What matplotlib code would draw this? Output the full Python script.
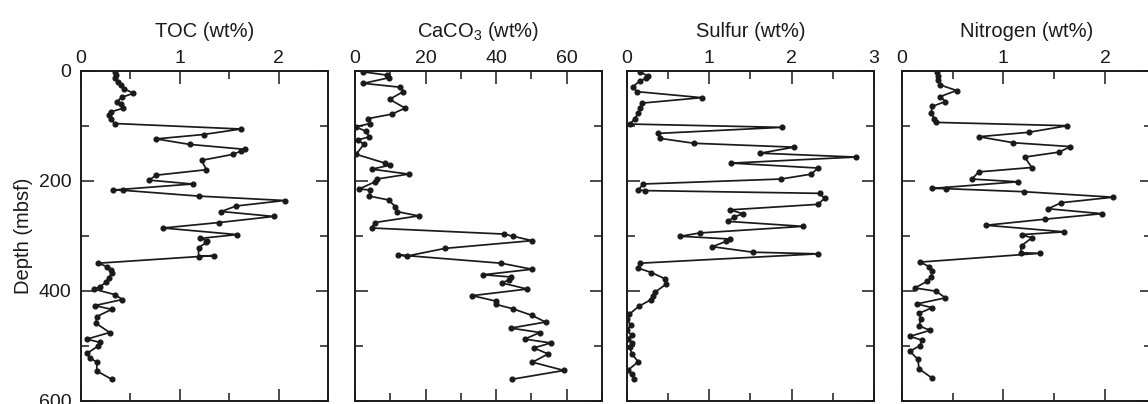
import matplotlib
matplotlib.use("Agg")
from matplotlib import pyplot as plt
from matplotlib.ticker import MultipleLocator

plt.rcParams["font.family"] = ["Liberation Sans", "DejaVu Sans"]
plt.rcParams["mathtext.default"] = "regular"

# depth (mbsf) and value pairs
toc_depth = [2, 8, 14, 20, 26, 33, 41, 48, 56, 61, 68, 75, 80, 87, 96, 106, 116, 124, 134, 143,
             146, 152, 163, 180, 190, 199, 206, 217, 217.5, 228, 236, 246, 256, 265, 276, 286, 298, 305, 309, 312,
             322, 338, 336, 350, 356, 362, 368, 377, 385, 393, 397, 407, 416, 427, 434, 447, 459, 476, 488, 494,
             501, 514, 522, 530, 546, 561]
toc = [0.34, 0.35, 0.34, 0.37, 0.40, 0.44, 0.53, 0.42, 0.36, 0.40, 0.43, 0.30, 0.28, 0.30, 0.34, 1.62, 1.24, 0.76, 1.10, 1.66,
       1.62, 1.54, 1.22, 1.27, 0.76, 0.69, 1.13, 0.32, 0.43, 1.19, 2.06, 1.57, 1.42, 1.95, 1.40, 0.83, 1.58, 1.20, 1.28, 1.27,
       1.19, 1.19, 1.35, 0.175, 0.26, 0.30, 0.31, 0.28, 0.25, 0.19, 0.13, 0.34, 0.42, 0.14, 0.31, 0.16, 0.15, 0.29, 0.06, 0.19,
       0.17, 0.06, 0.09, 0.16, 0.16, 0.31]

caco3_depth = [2, 8, 13, 23, 30, 38, 52, 68, 79, 87, 96, 102, 110, 120, 126, 134, 152, 168, 172, 179,
               188, 197, 202, 215, 217, 228, 235, 247, 256, 264, 276, 286, 297, 301, 309, 323, 337, 335, 350, 361,
               371, 375, 380, 386, 397, 409, 419, 425, 433, 445, 457, 468, 476, 488, 495, 504, 515, 530, 545, 561]
caco3 = [2.2, 9.0, 9.5, 2.4, 12.8, 13.7, 9.8, 14.2, 10.4, 3.8, 4.3, 0.2, 3.0, 4.1, 0.8, 2.5, 0.3, 8.5, 9.8, 4.7,
         15.2, 6.2, 5.7, 1.2, 4.3, 4.1, 9.5, 11.4, 11.8, 18.0, 5.7, 4.7, 42.2, 44.8, 50.2, 25.6, 14.7, 12.3, 41.4, 50.2,
         36.3, 44.1, 43.6, 41.7, 48.8, 33.2, 40.0, 40.0, 44.8, 50.2, 54.0, 44.1, 52.4, 48.1, 55.5, 50.7, 54.7, 50.3, 59.2, 44.5]

sulfur_depth = [2, 10, 14, 18, 29, 38, 49, 59, 68, 77, 87, 97, 103, 114, 123, 132, 139, 150, 157, 168,
                177, 188, 197, 206, 217, 218, 223, 232, 243, 253, 260, 266, 274, 283, 295, 301, 306, 310, 320, 330,
                333, 350, 359, 367, 378, 388, 403, 409, 416, 428, 443, 452, 463, 472, 481, 487, 495, 503, 515, 529,
                544, 552, 560]
sulfur = [0.16, 0.26, 0.24, 0.16, 0.08, 0.12, 0.91, 0.18, 0.16, 0.14, 0.10, 0.04, 1.88, 0.38, 0.40, 0.82, 2.03, 1.62, 2.78, 1.27,
          2.32, 2.24, 1.87, 0.20, 0.14, 0.22, 2.34, 2.40, 2.32, 1.25, 1.41, 1.30, 1.23, 2.14, 0.89, 0.65, 1.25, 1.21, 1.04, 1.53,
          2.32, 0.16, 0.14, 0.30, 0.46, 0.48, 0.34, 0.32, 0.30, 0.15, 0.03, 0.0, 0.05, 0.0, 0.06, 0.01, 0.07, 0.04, 0.06, 0.14,
          0.02, 0.07, 0.09]

nitrogen_depth = [2, 10, 17, 26, 36, 47, 56, 65, 77, 87, 94, 100, 112, 120, 131, 138, 148, 157, 176, 184,
                  197, 202, 214, 214.5, 220, 230, 240, 251, 260, 270, 281, 293, 298, 304, 318, 331, 332, 348, 356, 365,
                  375, 383, 395, 401, 413, 424, 431, 441, 452, 464, 472, 483, 490, 500, 510, 525, 542, 559]
nitrogen = [0.35, 0.36, 0.36, 0.38, 0.54, 0.38, 0.43, 0.30, 0.29, 0.32, 0.34, 1.63, 1.25, 0.76, 1.10, 1.66, 1.55, 1.21, 1.28, 0.76,
            0.69, 1.14, 0.30, 0.44, 1.20, 2.08, 1.57, 1.44, 1.97, 1.41, 0.83, 1.60, 1.18, 1.28, 1.18, 1.17, 1.36, 0.18, 0.27, 0.30,
            0.29, 0.25, 0.13, 0.34, 0.43, 0.15, 0.30, 0.17, 0.19, 0.17, 0.28, 0.08, 0.20, 0.18, 0.08, 0.16, 0.17, 0.30]

titles = ["TOC (wt%)", "CaCO$_3$ (wt%)", "Sulfur (wt%)", "Nitrogen (wt%)"]
xlims = [(0, 2.5), (0, 70), (0, 3), (0, 2.46)]
major_steps = [1, 20, 1, 1]
minor_steps = [0.5, 10, 0.5, 0.5]
series = [(toc, toc_depth), (caco3, caco3_depth), (sulfur, sulfur_depth), (nitrogen, nitrogen_depth)]

W, H = 1148, 404
lefts = [81, 355, 626.7, 901.7]
widths = [247, 247, 247.3, 250]
top, bottom = 70.7, 400.7

fig = plt.figure(figsize=(W / 100, H / 100), dpi=100)

for i in range(4):
    ax = fig.add_axes([lefts[i] / W, 1 - bottom / H, widths[i] / W, (bottom - top) / H])
    x, d = series[i]
    ax.plot(x, d, color="#1a1a1a", lw=1.25, marker="o", ms=3.4)
    ax.set_xlim(*xlims[i])
    ax.set_ylim(600, 0)
    ax.xaxis.set_major_locator(MultipleLocator(major_steps[i]))
    ax.xaxis.set_minor_locator(MultipleLocator(minor_steps[i]))
    ax.yaxis.set_major_locator(MultipleLocator(200))
    ax.yaxis.set_minor_locator(MultipleLocator(100))
    ax.tick_params(which="both", direction="in", top=True, bottom=True, left=True, right=True,
                   labeltop=True, labelbottom=False, labelleft=(i == 0), labelsize=14, width=1.1,
                   colors="#1a1a1a")
    ax.tick_params(which="major", length=9, pad=2.5)
    ax.tick_params(which="minor", length=6)
    ax.tick_params(axis="y", which="major", pad=7)
    for s in ax.spines.values():
        s.set_linewidth(1.4)
        s.set_color("#1a1a1a")
    ax.text(0.5, 1 + 39.5 / (bottom - top), titles[i], transform=ax.transAxes,
            ha="center", va="center", fontsize=14.5, color="#1a1a1a")
    if i == 0:
        ax.set_ylabel("Depth (mbsf)", fontsize=14.5, labelpad=4, color="#1a1a1a")

fig.savefig("out.png", dpi=100)
